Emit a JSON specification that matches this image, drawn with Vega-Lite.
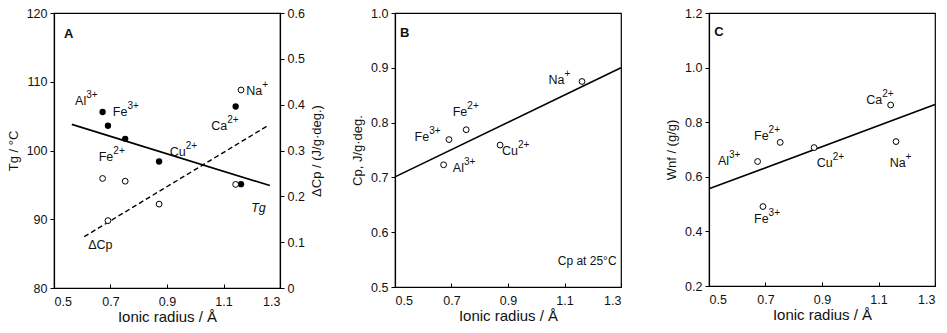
{
  "$schema": "https://vega.github.io/schema/vega-lite/v6.json",
  "background": "white",
  "padding": {"left": 6, "top": 6, "right": 5, "bottom": 5},
  "datasets": {
    "tg": [
      {"ion": "Al3+", "r": 0.672, "v": 105.6},
      {"ion": "Fe3+", "r": 0.691, "v": 103.6},
      {"ion": "Fe2+", "r": 0.752, "v": 101.7},
      {"ion": "Cu2+", "r": 0.872, "v": 98.4},
      {"ion": "Ca2+", "r": 1.143, "v": 106.4},
      {"ion": "Na+", "r": 1.162, "v": 95.1}
    ],
    "dcp": [
      {"ion": "Al3+", "r": 0.672, "v": 0.239},
      {"ion": "Fe3+", "r": 0.691, "v": 0.147},
      {"ion": "Fe2+", "r": 0.752, "v": 0.233},
      {"ion": "Cu2+", "r": 0.872, "v": 0.183},
      {"ion": "Ca2+", "r": 1.143, "v": 0.226},
      {"ion": "Na+", "r": 1.162, "v": 0.432}
    ],
    "cp": [
      {"ion": "Al3+", "r": 0.672, "v": 0.723},
      {"ion": "Fe3+", "r": 0.691, "v": 0.769},
      {"ion": "Fe2+", "r": 0.752, "v": 0.787},
      {"ion": "Cu2+", "r": 0.872, "v": 0.759},
      {"ion": "Na+", "r": 1.162, "v": 0.875}
    ],
    "wnf": [
      {"ion": "Al3+", "r": 0.672, "v": 0.656},
      {"ion": "Fe3+", "r": 0.691, "v": 0.491},
      {"ion": "Fe2+", "r": 0.752, "v": 0.726},
      {"ion": "Cu2+", "r": 0.872, "v": 0.707},
      {"ion": "Ca2+", "r": 1.143, "v": 0.863},
      {"ion": "Na+", "r": 1.162, "v": 0.729}
    ],
    "tgFit": [{"r": 0.563, "v": 103.8}, {"r": 1.264, "v": 94.9}],
    "dcpFit": [{"r": 0.607, "v": 0.112}, {"r": 1.259, "v": 0.355}],
    "cpFit": [{"r": 0.5, "v": 0.701}, {"r": 1.3, "v": 0.9}],
    "wnfFit": [{"r": 0.5, "v": 0.556}, {"r": 1.3, "v": 0.865}],
    "ionsA": [
      {"r": 0.614, "v": 107.2, "base": "Al", "sup": "3+"},
      {"r": 0.760, "v": 105.6, "base": "Fe", "sup": "3+"},
      {"r": 0.710, "v": 99.1, "base": "Fe", "sup": "2+"},
      {"r": 0.966, "v": 99.8, "base": "Cu", "sup": "2+"},
      {"r": 1.113, "v": 103.6, "base": "Ca", "sup": "2+"},
      {"r": 1.237, "v": 108.7, "base": "Na", "sup": "+"}
    ],
    "notesA": [{"r": 0.621, "v": 86.3, "label": "ΔCp"}],
    "curveA": [{"r": 1.198, "v": 91.6, "label": "Tg"}],
    "panelA": [{"r": 0.535, "v": 117.0, "label": "A"}],
    "ionsB": [
      {"r": 1.1, "v": 0.878, "base": "Na", "sup": "+"},
      {"r": 0.756, "v": 0.819, "base": "Fe", "sup": "2+"},
      {"r": 0.621, "v": 0.774, "base": "Fe", "sup": "3+"},
      {"r": 0.935, "v": 0.748, "base": "Cu", "sup": "2+"},
      {"r": 0.744, "v": 0.717, "base": "Al", "sup": "3+"}
    ],
    "notesB": [{"r": 1.076, "v": 0.547, "label": "Cp at 25°C"}],
    "panelB": [{"r": 0.518, "v": 0.964, "label": "B"}],
    "ionsC": [
      {"r": 1.113, "v": 0.880, "base": "Ca", "sup": "2+"},
      {"r": 0.711, "v": 0.749, "base": "Fe", "sup": "2+"},
      {"r": 0.571, "v": 0.658, "base": "Al", "sup": "3+"},
      {"r": 0.938, "v": 0.652, "base": "Cu", "sup": "2+"},
      {"r": 1.196, "v": 0.652, "base": "Na", "sup": "+"},
      {"r": 0.711, "v": 0.445, "base": "Fe", "sup": "3+"}
    ],
    "panelC": [{"r": 0.519, "v": 1.129, "label": "C"}]
  },
  "spacing": 115,
  "bounds": "flush",
  "hconcat": [
    {
      "width": 226,
      "height": 275,
      "resolve": {"scale": {"y": "independent"}},
      "layer": [
        {
          "encoding": {
            "x": {"field": "r", "type": "quantitative", "scale": {"domain": [0.5, 1.3], "nice": false, "zero": false},
                  "axis": {"values": [0.5, 0.7, 0.9, 1.1, 1.3], "format": ".1f", "title": "Ionic radius / Å"}},
            "y": {"field": "v", "type": "quantitative", "scale": {"domain": [80, 120], "nice": false, "zero": false},
                  "axis": {"values": [80, 90, 100, 110, 120], "title": "Tg / °C"}}
          },
          "layer": [
            {"data": {"name": "tgFit"}, "mark": {"type": "line", "color": "black", "strokeWidth": 1.6}},
            {"data": {"name": "tg"}, "mark": {"type": "point", "shape": "circle", "filled": true, "color": "black", "size": 40, "opacity": 1}},
            {"data": {"name": "ionsA"}, "mark": {"type": "text", "align": "right", "baseline": "middle", "fontSize": 12.5, "color": "#111"},
             "encoding": {"text": {"field": "base"}}},
            {"data": {"name": "ionsA"}, "mark": {"type": "text", "align": "left", "baseline": "middle", "dy": -6, "fontSize": 10, "color": "#111"},
             "encoding": {"text": {"field": "sup"}}},
            {"data": {"name": "notesA"}, "mark": {"type": "text", "align": "left", "baseline": "middle", "fontSize": 12.5, "color": "#111"},
             "encoding": {"text": {"field": "label"}}},
            {"data": {"name": "curveA"}, "mark": {"type": "text", "align": "left", "baseline": "middle", "fontSize": 12.5, "fontStyle": "italic", "color": "#111"},
             "encoding": {"text": {"field": "label"}}},
            {"data": {"name": "panelA"}, "mark": {"type": "text", "align": "left", "baseline": "middle", "fontSize": 13, "fontWeight": "bold", "color": "#111"},
             "encoding": {"text": {"field": "label"}}}
          ]
        },
        {
          "encoding": {
            "x": {"field": "r", "type": "quantitative", "scale": {"domain": [0.5, 1.3], "nice": false, "zero": false},
                  "axis": {"values": [0.5, 0.7, 0.9, 1.1, 1.3], "format": ".1f", "title": "Ionic radius / Å"}},
            "y": {"field": "v", "type": "quantitative", "scale": {"domain": [0, 0.6], "nice": false, "zero": false},
                  "axis": {"orient": "right", "values": [0, 0.1, 0.2, 0.3, 0.4, 0.5, 0.6],
                           "labelExpr": "datum.value == 0 ? '0' : format(datum.value, '.1f')",
                           "title": "ΔCp / (J/g·deg.)", "titleAngle": 270, "titleBaseline": "top"}}
          },
          "layer": [
            {"data": {"name": "dcpFit"}, "mark": {"type": "line", "color": "black", "strokeWidth": 1.4, "strokeDash": [5, 3]}},
            {"data": {"name": "dcp"}, "mark": {"type": "point", "shape": "circle", "filled": true, "fill": "white", "stroke": "black", "strokeWidth": 1, "size": 34, "opacity": 1}}
          ]
        }
      ]
    },
    {
      "spacing": 88,
      "bounds": "flush",
      "hconcat": [
        {
          "width": 226,
          "height": 274,
          "encoding": {
            "x": {"field": "r", "type": "quantitative", "scale": {"domain": [0.5, 1.3], "nice": false, "zero": false},
                  "axis": {"values": [0.5, 0.7, 0.9, 1.1, 1.3], "format": ".1f", "title": "Ionic radius / Å"}},
            "y": {"field": "v", "type": "quantitative", "scale": {"domain": [0.5, 1.0], "nice": false, "zero": false},
                  "axis": {"values": [0.5, 0.6, 0.7, 0.8, 0.9, 1.0], "format": ".1f", "title": "Cp, J/g·deg."}}
          },
          "layer": [
            {"data": {"name": "cpFit"}, "mark": {"type": "line", "color": "black", "strokeWidth": 1.6}},
            {"data": {"name": "cp"}, "mark": {"type": "point", "shape": "circle", "filled": true, "fill": "white", "stroke": "black", "strokeWidth": 1, "size": 34, "opacity": 1}},
            {"data": {"name": "ionsB"}, "mark": {"type": "text", "align": "right", "baseline": "middle", "fontSize": 12.5, "color": "#111"},
             "encoding": {"text": {"field": "base"}}},
            {"data": {"name": "ionsB"}, "mark": {"type": "text", "align": "left", "baseline": "middle", "dy": -6, "fontSize": 10, "color": "#111"},
             "encoding": {"text": {"field": "sup"}}},
            {"data": {"name": "notesB"}, "mark": {"type": "text", "align": "left", "baseline": "middle", "fontSize": 12, "color": "#111"},
             "encoding": {"text": {"field": "label"}}},
            {"data": {"name": "panelB"}, "mark": {"type": "text", "align": "left", "baseline": "middle", "fontSize": 13, "fontWeight": "bold", "color": "#111"},
             "encoding": {"text": {"field": "label"}}}
          ]
        },
        {
          "width": 226,
          "height": 273,
          "encoding": {
            "x": {"field": "r", "type": "quantitative", "scale": {"domain": [0.5, 1.3], "nice": false, "zero": false},
                  "axis": {"values": [0.5, 0.7, 0.9, 1.1, 1.3], "format": ".1f", "title": "Ionic radius / Å"}},
            "y": {"field": "v", "type": "quantitative", "scale": {"domain": [0.2, 1.2], "nice": false, "zero": false},
                  "axis": {"values": [0.2, 0.4, 0.6, 0.8, 1.0, 1.2], "format": ".1f", "title": "Wnf / (g/g)"}}
          },
          "layer": [
            {"data": {"name": "wnfFit"}, "mark": {"type": "line", "color": "black", "strokeWidth": 1.6}},
            {"data": {"name": "wnf"}, "mark": {"type": "point", "shape": "circle", "filled": true, "fill": "white", "stroke": "black", "strokeWidth": 1, "size": 34, "opacity": 1}},
            {"data": {"name": "ionsC"}, "mark": {"type": "text", "align": "right", "baseline": "middle", "fontSize": 12.5, "color": "#111"},
             "encoding": {"text": {"field": "base"}}},
            {"data": {"name": "ionsC"}, "mark": {"type": "text", "align": "left", "baseline": "middle", "dy": -6, "fontSize": 10, "color": "#111"},
             "encoding": {"text": {"field": "sup"}}},
            {"data": {"name": "panelC"}, "mark": {"type": "text", "align": "left", "baseline": "middle", "fontSize": 13, "fontWeight": "bold", "color": "#111"},
             "encoding": {"text": {"field": "label"}}}
          ]
        }
      ]
    }
  ],
  "config": {
    "font": "Liberation Sans",
    "view": {"stroke": "black", "strokeWidth": 1.2},
    "axis": {
      "grid": false,
      "domainColor": "black",
      "domainWidth": 1.2,
      "tickColor": "black",
      "tickSize": 4,
      "labelColor": "#111",
      "titleColor": "#111",
      "labelFontSize": 12.5,
      "titleFontSize": 13,
      "titleFontWeight": "normal",
      "labelPadding": 3,
      "titlePadding": 6
    },
    "axisX": {"tickSize": -4, "labelPadding": 11, "titlePadding": 2, "titleFontSize": 15}
  }
}
